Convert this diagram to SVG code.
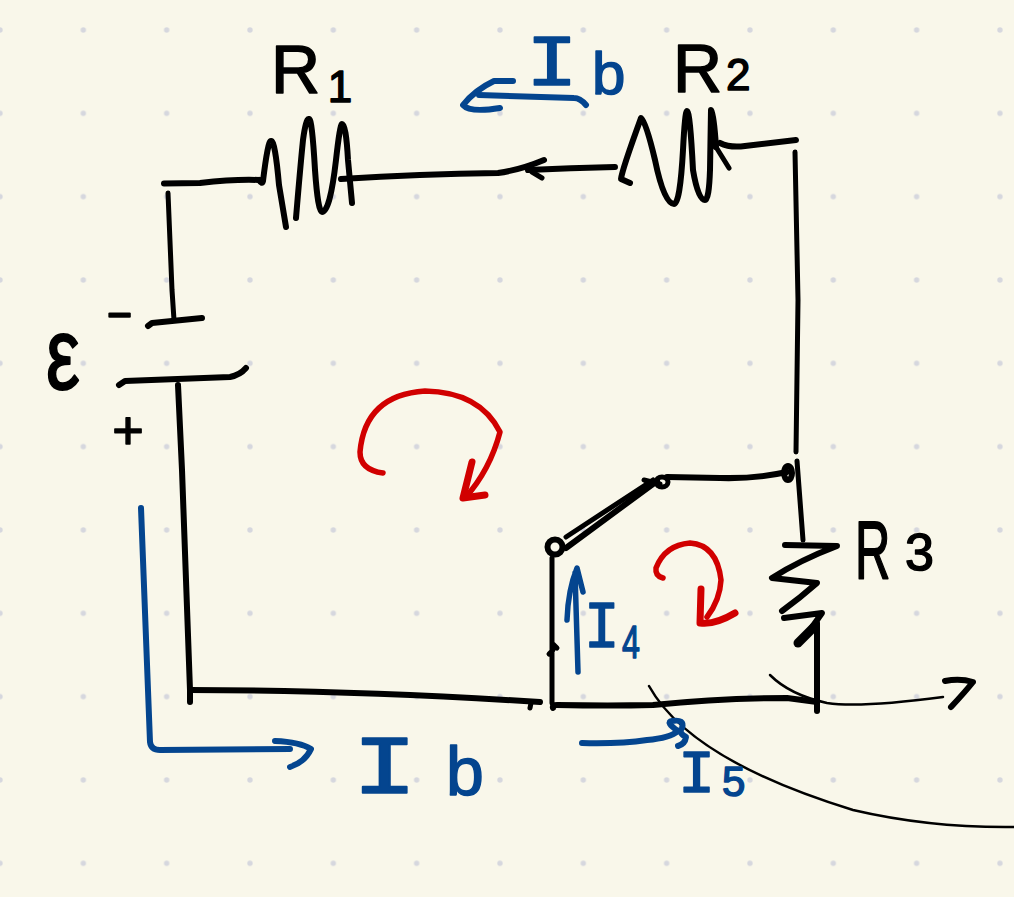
<svg xmlns="http://www.w3.org/2000/svg" width="1014" height="897" viewBox="0 0 1014 897">
<defs>
<pattern id="dots" patternUnits="userSpaceOnUse" x="-41.67" y="-11.67" width="83.33" height="83.33"><circle cx="41.67" cy="41.67" r="2.7" fill="#d6d7de"/></pattern>
</defs>
<style>
path,ellipse,circle.n{fill:none;stroke-linecap:round;stroke-linejoin:round}
.k{stroke:#000;stroke-width:6}
.f{stroke:#000;stroke-width:5}
.t{stroke:#000;stroke-width:2.5}
.b{stroke:#04458f;stroke-width:6}
.h{stroke:#04458f;stroke-width:5.500}
.r{stroke:#d10000;stroke-width:5.500}
.rh{stroke:#d10000;stroke-width:7}
text{fill:#000;stroke:#000;stroke-width:1.5;stroke-linejoin:round;font-family:"Liberation Sans",sans-serif}
.bl{fill:#04458f;stroke:#04458f}
.m{font-family:"Liberation Mono",monospace}
</style>
<rect width="1014" height="897" fill="#f9f7ea"/>
<rect width="1014" height="897" fill="url(#dots)"/>
<g id="connectors">
<path class="k" d="M164 183.500L200 183Q235 179 259 180"/>
<path class="f" d="M168 193L172 290L174 320"/>
<path class="k" d="M341 179Q420 174 498 173Q520 170 544 160"/>
<path class="k" d="M528 170Q570 168 615 167"/><path class="f" d="M532 172L542 178"/>
<path class="k" d="M720 143Q730 148 745 146Q770 143 796 140"/>
<path class="f" d="M795 152L798 300L796 452"/>
<path class="f" d="M797 461L803 540"/>
<path class="k" d="M667 477L720 478Q755 479 787 472"/>
<path class="k" d="M657 481L566 548"/><path class="f" d="M566 537L653 480M644 480L660 484"/>
<path class="f" d="M552 558L552 703M553 644L557 648M553 650L549 654"/>
<path class="k" d="M553 708Q552 705 557 705Q610 706 653 705Q720 698 787 698L817 702"/>
<path class="k" d="M817 623L817 711"/>
<path class="k" d="M178 385L182 470L190 690L190 702"/>
<path class="k" d="M190 690Q350 690 540 702"/><path class="f" d="M531 703L530 708"/>
<path class="t" d="M770 675Q790 695 827 703Q860 708 943 697"/>
<path class="k" d="M945 681Q960 678 973 682Q965 692 951 707"/>
<path class="t" d="M649 686Q690 760 853 810Q930 828 1014 827"/>
</g>
<g id="R1"><path class="k" d="M259 180Q262 185 263 181Q268 140 271 141Q275 140 279 185L286 227M296 218Q300 170 303 140Q306 118 309 119Q312 118 315 170Q318 212 322 212Q330 212 336 160Q340 124 342 124Q346 124 348 160L352 203"/>
<text x="271" y="93" font-size="68">R</text><text x="340" y="102" font-size="44" text-anchor="middle">1</text></g>
<g id="R2"><path class="k" d="M630 183L621 179Q622 170 641 118Q646 122 655 160Q664 204 674 204Q680 204 683 150Q685 111 687 111Q690 111 693 170Q698 200 705 200Q709 200 710 170Q711 110 711 110Q714 115 716 147"/><path class="f" d="M716 147L729 168"/>
<text x="673" y="92" font-size="68">R</text><text x="726" y="90" font-size="44">2</text></g>
<g id="R3"><path class="k" d="M785 545L837 546Q800 560 772 578L817 583Q800 598 782 611M784 618L822 613L810 630"/><path d="M798 643L814 627" stroke="#000" stroke-width="9" stroke-linecap="round"/>
<text transform="translate(855,578) scale(.72,1.2)" font-size="68">R</text><text x="905" y="570" font-size="52">3</text></g>
<g id="battery"><path class="k" d="M148 326L152 323L202 318"/><path class="k" d="M119 385L125 381L230 377Q240 375 246 368"/>
<text transform="translate(46,389) scale(1,1.35)" font-size="76" stroke-width="0">ε</text>
<text transform="translate(106,328) scale(1.7,1)" font-size="48">-</text><text x="128" y="449" font-size="54" text-anchor="middle">+</text></g>
<g id="junctions"><ellipse class="k" cx="788" cy="473" rx="4" ry="7"/><ellipse class="f" cx="662" cy="482" rx="6" ry="5"/><circle class="n k" cx="555" cy="547" r="7.500"/></g>
<g id="loop-large"><path class="r" d="M383 473Q360 470 360 452Q365 395 425 391Q480 392 500 432Q490 470 465 498"/><path class="rh" d="M472 462L463 498L485 495"/></g>
<g id="loop-small"><path class="r" d="M663 578Q655 576 656 568Q665 545 690 543Q717 545 721 580Q720 600 707 617"/><path class="rh" d="M701 589L700 623Q715 625 735 613"/></g>
<g id="current-top"><path class="b" d="M586 105Q580 98 574 98L479 95"/><path class="b" d="M513 81L494 81Q475 90 463 105Q470 113 500 108"/>
<text class="m bl" transform="translate(526,85) scale(1.2,1)" font-size="72">I</text><text class="bl" x="592" y="94" font-size="60">b</text></g>
<g id="current-bottom"><path class="b" d="M141 508L150 742Q151 750 160 750L290 749"/><path class="b" d="M275 741Q300 742 311 749Q305 762 290 767"/>
<text class="m bl" transform="translate(352,793) scale(1.3,1)" font-size="84">I</text><text class="bl" x="446" y="795" font-size="68">b</text></g>
<g id="current-4"><path class="h" d="M578 672L575 573M567 620Q568 590 577 568L583 592"/>
<text class="m bl" transform="translate(584,647) scale(.9,1)" font-size="66">I</text><text class="bl" transform="translate(622,658) scale(.7,1)" font-size="46">4</text></g>
<g id="current-5"><path class="b" d="M582 743Q620 744 647 740Q670 738 678 731Q665 722 672 721Q685 719 682 728Q678 733 686 737Q685 744 678 746"/>
<text class="m bl" transform="translate(678,792) scale(1,1)" font-size="62">I</text><text class="bl" x="722" y="796" font-size="42">5</text></g>
</svg>
